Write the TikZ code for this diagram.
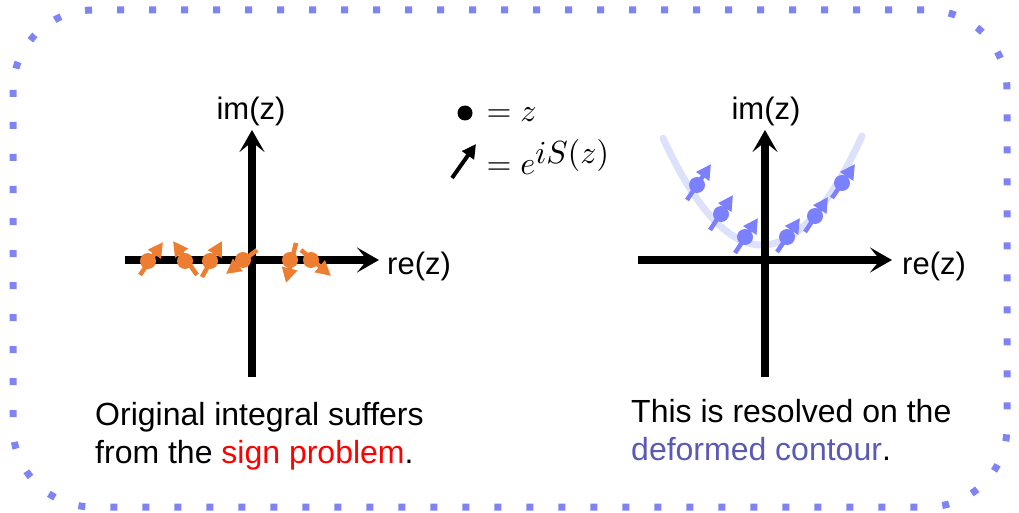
\documentclass[tikz,border=0pt]{standalone}
\usepackage{fontspec}
\setsansfont{Liberation Sans}
\usepackage{tikz}
\usetikzlibrary{arrows.meta, calc}

\definecolor{spinorange}{RGB}{237,125,49}
\definecolor{spinblue}{RGB}{123,128,255}
\definecolor{framblue}{RGB}{127,132,245}
\definecolor{contourblue}{RGB}{222,225,252}
\definecolor{textblue}{RGB}{90,90,180}

\begin{document}
\begin{tikzpicture}[
        x=1pt, y=-1pt,
        axis/.style={line width=8pt, -{Stealth[length=22pt, width=25pt, inset=10pt]}},
        label/.style={font=\sffamily\fontsize{31}{37}\selectfont, inner sep=0pt},
        caption/.style={font=\sffamily\fontsize{32}{38}\selectfont, align=left, inner sep=0pt},
        legend/.style={anchor=base west, inner sep=0pt, scale=3.2},
        odot/.style={circle, fill=spinorange, inner sep=0pt, minimum size=16pt},
        bdot/.style={circle, fill=spinblue, inner sep=0pt, minimum size=16pt},
        ospin/.style={line width=4.5pt, spinorange, -{Triangle[length=15pt, width=15pt]}},
        bspin/.style={line width=4.5pt, spinblue, -{Triangle[length=15pt, width=15pt]}}
    ]
    \useasboundingbox (0,0) rectangle (1019,513);

    % Frame
    \draw[framblue, line width=7pt, dash pattern=on 7pt off 25pt, rounded corners=80pt]
        (13,10) rectangle (1007,507);

    % Left axes
    \coordinate (lx0) at (125,260);
    \coordinate (lx1) at (379,260);
    \coordinate (ly0) at (252,377);
    \coordinate (ly1) at (252,130);
    \draw[axis] (lx0) -- (lx1);
    \draw[axis] (ly0) -- (ly1);
    \node[label, anchor=base] (lim) at (251,120) {im(z)};
    \node[label, anchor=base west] (lre) at (387,274) {re(z)};

    % Orange spins on the real axis
    \node[odot] (o1) at (148,261) {};
    \node[odot] (o2) at (185,261) {};
    \node[odot] (o3) at (210,261) {};
    \node[odot] (o4) at (243,260) {};
    \node[odot] (o5) at (290,260) {};
    \node[odot] (o6) at (311,260) {};
    \draw[ospin] ($(o1)+(-8,14)$) -- ($(o1)+(15,-19)$);
    \draw[ospin] ($(o2)+(12,14)$) -- ($(o2)+(-12,-20)$);
    \draw[ospin] ($(o3)+(-8,16)$) -- ($(o3)+(12,-20)$);
    \draw[ospin] ($(o4)+(14,-10)$) -- ($(o4)+(-17,14)$);
    \draw[ospin] ($(o5)+(6,-17)$) -- ($(o5)+(-4,23)$);
    \draw[ospin] ($(o6)+(-10,-10)$) -- ($(o6)+(20,16)$);

    % Legend
    \node[circle, fill=black, inner sep=0pt, minimum size=15pt] (lgdot) at (465,113) {};
    \node[legend] (lgz) at (486,122) {$= z$};
    \coordinate (lgtail) at (452,178);
    \coordinate (lgtip) at (476,144);
    \draw[line width=4pt, -{Triangle[length=14pt, width=14pt]}] (lgtail) -- (lgtip);
    \node[legend] (lgs) at (486,175) {$= e^{\textstyle iS(z)}$};

    % Right axes
    \draw[contourblue, line width=7pt, line cap=round]
        plot[domain=-99:100, samples=60] ({762+\x},{245-0.0109*\x*\x});
    \coordinate (rx0) at (638,260);
    \coordinate (rx1) at (892,260);
    \coordinate (ry0) at (765,377);
    \coordinate (ry1) at (765,130);
    \draw[axis] (rx0) -- (rx1);
    \draw[axis] (ry0) -- (ry1);
    \node[label, anchor=base] (rim) at (766,120) {im(z)};
    \node[label, anchor=base west] (rre) at (902,274) {re(z)};

    % Blue spins on the deformed contour
    \node[bdot] (b1) at (697,185) {};
    \node[bdot] (b2) at (721,214) {};
    \node[bdot] (b3) at (745,237) {};
    \node[bdot] (b4) at (787,237) {};
    \node[bdot] (b5) at (815,216) {};
    \node[bdot] (b6) at (842,183) {};
    \draw[bspin] ($(b1)+(-10,15)$) -- ($(b1)+(14,-21)$);
    \draw[bspin] ($(b2)+(-11,16)$) -- ($(b2)+(12,-19)$);
    \draw[bspin] ($(b3)+(-10,16)$) -- ($(b3)+(13,-19)$);
    \draw[bspin] ($(b4)+(-10,15)$) -- ($(b4)+(13,-19)$);
    \draw[bspin] ($(b5)+(-10,16)$) -- ($(b5)+(13,-19)$);
    \draw[bspin] ($(b6)+(-10,15)$) -- ($(b6)+(13,-19)$);

    % Captions
    \node[caption, anchor=base west] (lcap) at (95,463)
        {Original integral suffers\\from the \textcolor{red}{sign problem}.};
    \node[caption, anchor=base west] (rcap) at (631,460)
        {This is resolved on the\\\textcolor{textblue}{deformed contour}.};

\end{tikzpicture}
\end{document}
